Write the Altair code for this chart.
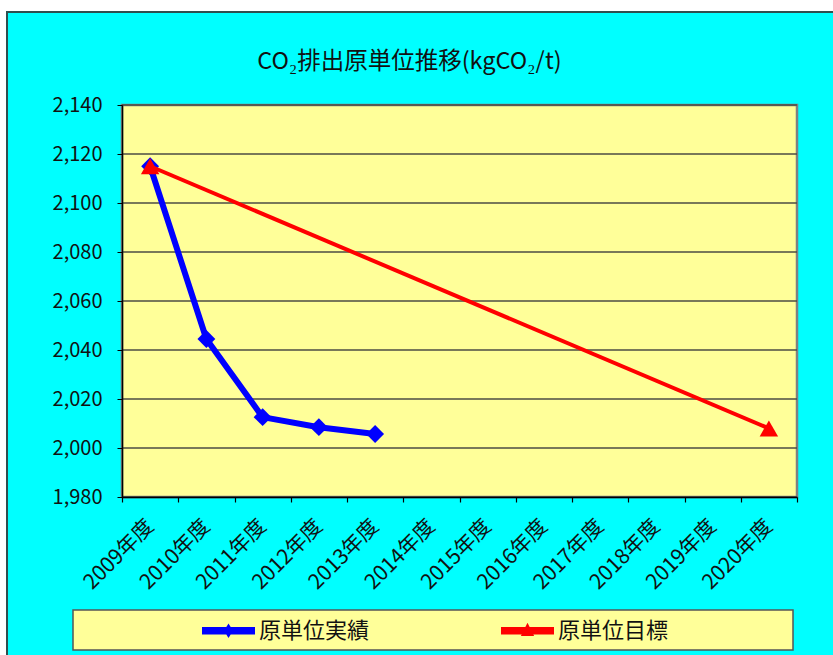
import altair as alt
import pandas as pd

# ---------------- data ----------------
years = ["2009年度", "2010年度", "2011年度", "2012年度", "2013年度", "2014年度",
         "2015年度", "2016年度", "2017年度", "2018年度", "2019年度", "2020年度"]
series_names = ["原単位実績", "原単位目標"]
actual_years = ["2009年度", "2010年度", "2011年度", "2012年度", "2013年度"]
actual_values = [2115.0, 2044.5, 2012.6, 2008.5, 2005.7]
target_years = ["2009年度", "2020年度"]
target_values = [2115.0, 2008.0]
y_ticks = [1980, 2000, 2020, 2040, 2060, 2080, 2100, 2120, 2140]
title_text = "CO₂排出原単位推移(kgCO₂/t)"

actual_df = pd.DataFrame({"year": actual_years, "value": actual_values})
target_df = pd.DataFrame({"year": target_years, "value": target_values})
legend_df = pd.DataFrame({"series": series_names})
grid_df = pd.DataFrame({"value": y_ticks})

# ---------------- style ----------------
FONT = "Noto Sans CJK JP"
W, H = 675, 392
BLUE, RED = "#0000FF", "#FF0000"
TEXT = "#111111"
PLOT_BG = "#FFFF99"
blue_sym = "M-1,-0.14 L1,-0.14 L1,0.14 L-1,0.14 Z M0,-0.27 L0.17,0 L0,0.27 L-0.17,0 Z"
red_sym = "M-1,-0.14 L1,-0.14 L1,0.14 L-1,0.14 Z M0,-0.3 L0.25,0.2 L-0.25,0.2 Z"

x_axis = alt.Axis(title=None, labelAngle=-45, labelAlign="right", labelBaseline="middle",
                  tickBand="extent", tickSize=5, tickColor="#000", tickWidth=1.2,
                  labelPadding=21, labelFont=FONT, labelFontSize=21, labelColor=TEXT,
                  domainColor="#000", domainWidth=1.5, grid=False, labelOverlap=False,
                  zindex=1)
y_axis = alt.Axis(title=None, values=y_ticks, format=",d", grid=False,
                  tickSize=5, tickColor="#000", labelPadding=15,
                  labelFont=FONT, labelFontSize=20, labelColor=TEXT,
                  domainColor="#000", domainWidth=1.5, zindex=1)

x_scale = alt.Scale(type="band", domain=years, paddingInner=0, paddingOuter=0)
y_scale = alt.Scale(domain=[1980, 2140], nice=False, zero=False)
x_enc = alt.X("year:N", sort=years, scale=x_scale, axis=x_axis)
y_enc = alt.Y("value:Q", scale=y_scale, axis=y_axis)

one = alt.Data(values=[{"k": 0}])

# decorative frame (white margin + outer border), plot background, legend box
white_top = alt.Chart(one).mark_rect(fill="white").encode(
    x=alt.value(-122), x2=alt.value(711), y=alt.value(-105), y2=alt.value(-93))
white_left = alt.Chart(one).mark_rect(fill="white").encode(
    x=alt.value(-122), x2=alt.value(-115), y=alt.value(-105), y2=alt.value(560))
border = alt.Chart(one).mark_rect(fill="transparent", stroke="#2f4f4f", strokeWidth=2).encode(
    x=alt.value(-115), x2=alt.value(760), y=alt.value(-93), y2=alt.value(620))
plot_bg = alt.Chart(one).mark_rect(fill=PLOT_BG, stroke="#808080", strokeWidth=2.5).encode(
    x=alt.value(0), x2=alt.value(W), y=alt.value(0), y2=alt.value(H))
legend_box = alt.Chart(one).mark_rect(fill=PLOT_BG, stroke="#555555", strokeWidth=1.5).encode(
    x=alt.value(-49), x2=alt.value(671), y=alt.value(505), y2=alt.value(545))

grid = alt.Chart(grid_df).mark_rule(color="#4d4d44", strokeWidth=1.5).encode(y=y_enc)

blue = alt.Chart(actual_df).mark_line(
    color=BLUE, strokeWidth=6, strokeJoin="round",
    point=alt.OverlayMarkDef(shape="diamond", size=320, filled=True, color=BLUE, opacity=1),
).encode(x=x_enc, y=y_enc)

red = alt.Chart(target_df).mark_line(
    color=RED, strokeWidth=4,
    point=alt.OverlayMarkDef(shape="triangle-up", size=340, filled=True, color=RED, opacity=1),
).encode(x=x_enc, y=y_enc)

leg = alt.Legend(orient="none", legendX=80, legendY=499, direction="horizontal", title=None,
                 symbolSize=2809, symbolStrokeWidth=0, symbolOpacity=1,
                 labelFont=FONT, labelFontSize=22, labelColor=TEXT, labelOffset=4,
                 columnPadding=131, padding=0, labelLimit=400)

legend_layer = alt.Chart(legend_df).mark_point(filled=True, opacity=1).encode(
    color=alt.Color("series:N", scale=alt.Scale(domain=series_names, range=[BLUE, RED]), legend=leg),
    shape=alt.Shape("series:N", scale=alt.Scale(domain=series_names, range=[blue_sym, red_sym]), legend=leg),
).transform_filter("false")

chart = alt.layer(white_top, white_left, border, plot_bg, legend_box, grid, blue, red,
                  legend_layer).properties(
    width=W, height=H,
    autosize=alt.AutoSizeParams(type="none"),
    padding={"left": 122, "top": 105, "right": 36, "bottom": 158},
    title=alt.TitleParams(text=title_text, font=FONT, fontSize=23.5, fontWeight="normal",
                          color=TEXT, anchor="middle", frame="group", dx=-50, offset=-73),
).configure(background="#00FFFF", font=FONT).configure_view(strokeWidth=0)

chart.save("out.html", embed_options={"renderer": "svg", "actions": False})
